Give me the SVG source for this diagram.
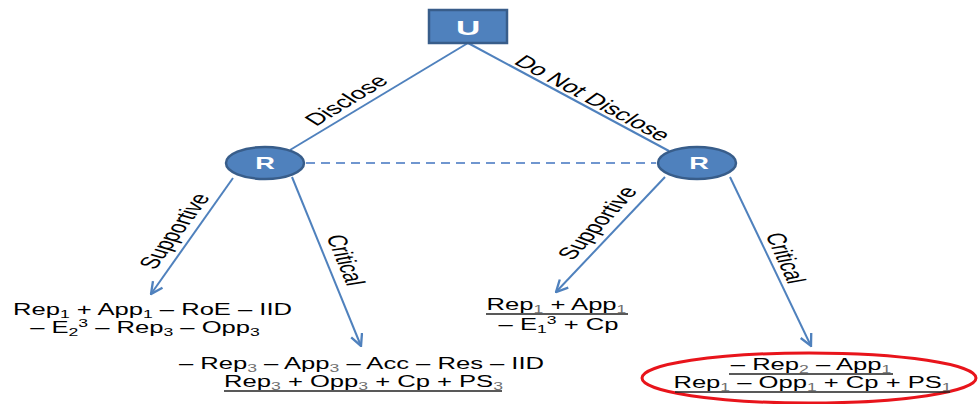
<svg xmlns="http://www.w3.org/2000/svg" width="978" height="404" viewBox="0 0 978 404">
<style>
.t{font-family:"Liberation Sans",Arial,sans-serif;font-size:16px;fill:#000;text-anchor:middle}
.lbl{font-size:17px}
.ul{stroke:#222;stroke-width:1.3}
.sub{font-size:11px}
.g{fill:#6f6f6f}
.edge{stroke:#4F81BD;stroke-width:2;fill:none}
.arr{marker-end:url(#ah)}
.dash{stroke:#7096CF;stroke-width:2;stroke-dasharray:9 6;fill:none}
.node{fill:#4F81BD;stroke:#385D8A;stroke-width:2.5}
.nt{font-family:"Liberation Sans",Arial,sans-serif;font-weight:bold;fill:#fff;text-anchor:middle}
</style>
<defs>
<marker id="ah" viewBox="0 0 12 12" refX="11" refY="6" markerWidth="14" markerHeight="14" markerUnits="userSpaceOnUse" orient="auto">
<path d="M1,1 L11,6 L1,11" fill="none" stroke="#4F81BD" stroke-width="2"/>
</marker>
</defs>
<rect width="978" height="404" fill="#fff"/>
<g id="connectors">
<line class="edge" x1="468" y1="43" x2="290" y2="150"/>
<line class="edge" x1="468" y1="43" x2="669" y2="151"/>
<line class="dash" x1="306" y1="163" x2="656" y2="163"/>
<line class="edge arr" x1="233" y1="178" x2="151" y2="294"/>
<line class="edge arr" x1="292" y1="177" x2="361" y2="346"/>
<line class="edge arr" x1="665" y1="177" x2="556" y2="292"/>
<line class="edge arr" x1="730" y1="177" x2="811" y2="346"/>
<g transform="translate(346 100) scale(1.6 1) rotate(-44.3)"><text class="t lbl" x="0" y="6">Disclose</text></g>
<g transform="translate(593 98) scale(1.6 1) rotate(40.5)"><text class="t lbl" x="0" y="6">Do Not Disclose</text></g>
<g transform="translate(174 231) scale(1.6 1) rotate(-64.7)"><text class="t lbl" x="0" y="6">Supportive</text></g>
<g transform="translate(346 260) scale(1.6 1) rotate(75.4)"><text class="t lbl" x="0" y="6">Critical</text></g>
<g transform="translate(597 223) scale(1.6 1) rotate(-59.7)"><text class="t lbl" x="0" y="6">Supportive</text></g>
<g transform="translate(786 258) scale(1.6 1) rotate(73.9)"><text class="t lbl" x="0" y="6">Critical</text></g>
</g>
<g id="node-U">
<rect class="node" x="429" y="10" width="78" height="33"/>
<g transform="translate(468 0) scale(1.6 1)"><text class="nt" x="0" y="35" font-size="21">U</text></g>
</g>
<g id="node-R-left">
<ellipse class="node" cx="265" cy="163" rx="39" ry="16"/>
<g transform="translate(265 0) scale(1.6 1)"><text class="nt" x="0" y="169" font-size="17">R</text></g>
</g>
<g id="node-R-right">
<ellipse class="node" cx="697" cy="163" rx="39" ry="16"/>
<g transform="translate(699 0) scale(1.6 1)"><text class="nt" x="0" y="169" font-size="17">R</text></g>
</g>
<g id="outcome-disclose-supportive">
<g transform="translate(152.5 0) scale(1.6 1)"><text class="t" x="0" y="315">Rep<tspan class="sub" dy="3">1</tspan><tspan dy="-3"> + App</tspan><tspan class="sub" dy="3">1</tspan><tspan dy="-3"> – RoE – IID</tspan></text></g>
<g transform="translate(145 0) scale(1.6 1)"><text class="t" x="0" y="333">– E<tspan class="sub" dy="3">2</tspan><tspan class="sub" dy="-9">3</tspan><tspan dy="6"> – Rep</tspan><tspan class="sub" dy="3">3</tspan><tspan dy="-3"> – Opp</tspan><tspan class="sub" dy="3">3</tspan></text></g>
</g>
<g id="outcome-disclose-critical">
<g transform="translate(361.5 0) scale(1.6 1)"><text class="t" x="0" y="369">– Rep<tspan class="sub g" dy="3">3</tspan><tspan dy="-3"> – App</tspan><tspan class="sub g" dy="3">3</tspan><tspan dy="-3"> – Acc – Res – IID</tspan></text></g>
<g transform="translate(363.5 0) scale(1.6 1)"><text class="t" x="0" y="387">Rep<tspan class="sub g" dy="3">3</tspan><tspan dy="-3"> + Opp</tspan><tspan class="sub g" dy="3">3</tspan><tspan dy="-3"> + Cp + PS</tspan><tspan class="sub g" dy="3">3</tspan></text></g>
<line class="ul" x1="224" y1="391" x2="502" y2="391"/>
</g>
<g id="outcome-nodisclose-supportive">
<g transform="translate(556.5 0) scale(1.6 1)"><text class="t" x="0" y="310">Rep<tspan class="sub g" dy="3">1</tspan><tspan dy="-3"> + App</tspan><tspan class="sub g" dy="3">1</tspan></text></g>
<line class="ul" x1="486" y1="314" x2="628" y2="314"/>
<g transform="translate(558.5 0) scale(1.6 1)"><text class="t" x="0" y="330">– E<tspan class="sub" dy="3">1</tspan><tspan class="sub" dy="-9">3</tspan><tspan dy="6"> + Cp</tspan></text></g>
</g>
<g id="outcome-nodisclose-critical">
<ellipse cx="809" cy="378" rx="167" ry="25" fill="none" stroke="#E8141B" stroke-width="3"/>
<g transform="translate(811 0) scale(1.6 1)"><text class="t" x="0" y="370">– Rep<tspan class="sub g" dy="3">2</tspan><tspan dy="-3"> – App</tspan><tspan class="sub g" dy="3">1</tspan></text></g>
<line class="ul" x1="729" y1="374" x2="893" y2="374"/>
<g transform="translate(812.5 0) scale(1.6 1)"><text class="t" x="0" y="388">Rep<tspan class="sub g" dy="3">1</tspan><tspan dy="-3"> – Opp</tspan><tspan class="sub g" dy="3">1</tspan><tspan dy="-3"> + Cp + PS</tspan><tspan class="sub g" dy="3">1</tspan></text></g>
<line class="ul" x1="675" y1="392" x2="950" y2="392"/>
</g>
</svg>
